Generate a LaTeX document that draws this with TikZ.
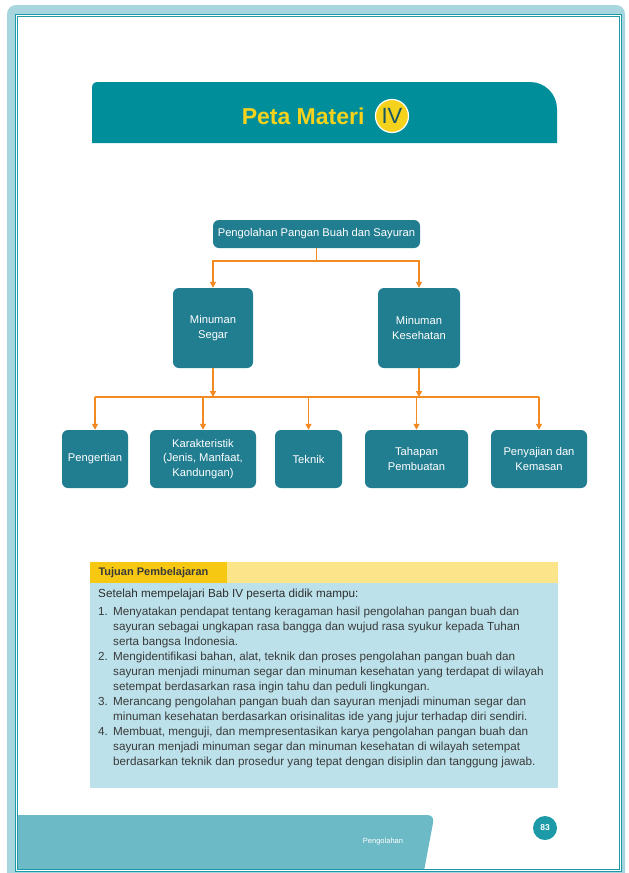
\documentclass[tikz,border=0pt]{standalone}
\usepackage{fontspec}
\setmainfont{Liberation Sans}
\usetikzlibrary{arrows.meta,positioning}

\definecolor{bingkai}{HTML}{A7D6DF}
\definecolor{garisbingkai}{HTML}{1C9AA7}
\definecolor{pita}{HTML}{008E9B}
\definecolor{kuning}{HTML}{F5D21C}
\definecolor{tosca}{HTML}{217D90}
\definecolor{oranye}{HTML}{F28A24}
\definecolor{kuningtua}{HTML}{F7C812}
\definecolor{kuningmuda}{HTML}{FCE48A}
\definecolor{birumuda}{HTML}{BCE1EA}
\definecolor{kaki}{HTML}{6CBAC6}
\definecolor{teks}{HTML}{3A3A3A}

\tikzset{
  kotak/.style={draw=none, fill=tosca, rounded corners=6pt, text=white, align=center,
    inner sep=2pt, font=\fontsize{11.2}{14.5}\selectfont},
  garis/.style={draw=oranye, line width=1.5pt},
  panah/.style={garis, -{Triangle[length=6pt, width=6pt]}}
}

\begin{document}
\begin{tikzpicture}[x=1pt, y=-1pt]
    \useasboundingbox (0,0) rectangle (629,873);

    % Moldura da página
    \fill[bingkai, rounded corners=9pt] (7,5) rectangle (625,890);
    \fill[white] (16,15) rectangle (621,871);
    \fill[kaki] (16,815) -- (427,815) .. controls (432,815) and (434,818) .. (433,823) -- (424,871) -- (16,871) -- cycle;
    \draw[garisbingkai, line width=0.7pt, double=white, double distance=1.2pt] (16.5,15.5) rectangle (620.5,870.5);

    % Faixa do título
    \fill[pita] (92,143) -- (92,88) .. controls (92,84) and (94,82) .. (98,82) -- (530,82)
      .. controls (545,82) and (557,94) .. (557,109) -- (557,143) -- cycle;
    \node[anchor=east, text=kuning, font=\bfseries\fontsize{23}{23}\selectfont] (judul) at (368,116) {Peta Materi};
    \node[circle, fill=kuning, draw=white, line width=1.2pt, minimum size=33pt, inner sep=0pt,
      text=tosca!70!black, font=\fontsize{22}{22}\selectfont] (bab) at (392,116) {IV};

    % Nós do mapa
    \node[kotak, minimum width=207pt, minimum height=28pt] (pangan) at (316.5,234) {Pengolahan Pangan Buah dan Sayuran};
    \node[kotak, minimum width=80pt, minimum height=80pt] (segar) at (213,328) {Minuman\\Segar};
    \node[kotak, minimum width=82pt, minimum height=80pt] (sehat) at (419,328) {Minuman\\Kesehatan};

    \node[kotak, minimum width=66pt, minimum height=58pt] (pengertian) at (95,459) {Pengertian};
    \node[kotak, minimum width=106pt, minimum height=58pt] (karakter) at (203,459) {Karakteristik\\(Jenis, Manfaat,\\Kandungan)};
    \node[kotak, minimum width=67pt, minimum height=58pt] (teknik) at (308.5,459) {Teknik};
    \node[kotak, minimum width=103pt, minimum height=58pt] (tahapan) at (416.5,459) {Tahapan\\Pembuatan};
    \node[kotak, minimum width=96pt, minimum height=58pt] (penyajian) at (539,459) {Penyajian dan\\Kemasan};

    \coordinate (atas) at (316.5,261);
    \coordinate (bawah) at (316,397);

    % Setas de cima
    \draw[garis] (pangan.south) -- (atas);
    \draw[panah] (atas) -| (segar.north);
    \draw[panah] (atas) -| (sehat.north);

    % Setas de baixo
    \draw[panah] (segar.south) -- (segar.south |- bawah);
    \draw[panah] (sehat.south) -- (sehat.south |- bawah);
    \draw[garis] (pengertian.north |- bawah) -- (penyajian.north |- bawah);
    \foreach \n in {pengertian,karakter,teknik,tahapan,penyajian}
      \draw[panah] (\n.north |- bawah) -- (\n.north);

    % Quadro dos objetivos
    \fill[kuningmuda] (90,562) rectangle (558,583);
    \fill[kuningtua] (90,562) rectangle (227,583);
    \fill[birumuda] (90,583) rectangle (558,788);
    \node[anchor=west, text=teks, font=\bfseries\fontsize{11}{13}\selectfont] (tujuan) at (95,572.5) {Tujuan Pembelajaran};
    \node[anchor=base west, text=teks!80!black, inner sep=0pt, font=\fontsize{11.7}{15}\selectfont] (pembuka) at (98,597)
      {Setelah mempelajari Bab IV peserta didik mampu:};
    \node[anchor=north west, text=teks, inner sep=0pt, font=\fontsize{11.7}{15}\selectfont] (daftar) at (98,604.5) {%
      \begin{tabular}{@{}p{15pt}@{}l@{}}
        1. & Menyatakan pendapat tentang keragaman hasil pengolahan pangan buah dan\\
           & sayuran sebagai ungkapan rasa bangga dan wujud rasa syukur kepada Tuhan\\
           & serta bangsa Indonesia.\\
        2. & Mengidentifikasi bahan, alat, teknik dan proses pengolahan pangan buah dan\\
           & sayuran menjadi minuman segar dan minuman kesehatan yang terdapat di wilayah\\
           & setempat berdasarkan rasa ingin tahu dan peduli lingkungan.\\
        3. & Merancang pengolahan pangan buah dan sayuran menjadi minuman segar dan\\
           & minuman kesehatan berdasarkan orisinalitas ide yang jujur terhadap diri sendiri.\\
        4. & Membuat, menguji, dan mempresentasikan karya pengolahan pangan buah dan\\
           & sayuran menjadi minuman segar dan minuman kesehatan di wilayah setempat\\
           & berdasarkan teknik dan prosedur yang tepat dengan disiplin dan tanggung jawab.
      \end{tabular}};

    % Rodapé
    \node[text=white, font=\fontsize{7.5}{8}\selectfont] (rodape) at (383,842) {Pengolahan};
    \node[circle, fill=garisbingkai, minimum size=24pt, inner sep=0pt, text=white,
      font=\bfseries\fontsize{8.5}{9}\selectfont] (halaman) at (545,828) {83};
\end{tikzpicture}
\end{document}
